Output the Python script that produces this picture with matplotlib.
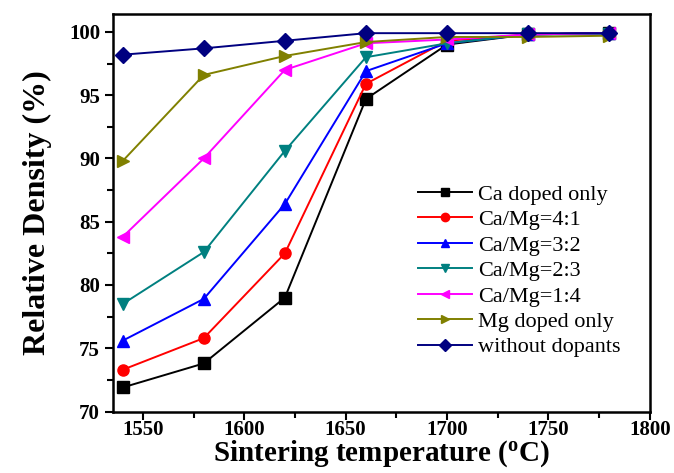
import matplotlib
matplotlib.use("Agg")
import matplotlib.pyplot as plt
from matplotlib.ticker import MultipleLocator

plt.rcParams['font.family'] = ['Liberation Serif', 'DejaVu Serif']
plt.rcParams['mathtext.fontset'] = 'custom'
plt.rcParams['mathtext.rm'] = 'Liberation Serif:bold'

# sintering temperatures (C)
temps = [1540, 1580, 1620, 1660, 1700, 1740, 1780]

ca_only = [71.9, 73.8, 79.0, 94.7, 99.0, 99.8, 99.9]
ca_mg_41 = [73.3, 75.8, 82.5, 95.9, 99.3, 99.8, 99.9]
ca_mg_32 = [75.6, 78.9, 86.4, 96.9, 99.1, 99.8, 99.9]
ca_mg_23 = [78.5, 82.6, 90.6, 98.0, 99.1, 99.8, 99.8]
ca_mg_14 = [83.8, 90.0, 97.0, 99.1, 99.4, 99.8, 99.9]
mg_only = [89.8, 96.6, 98.1, 99.2, 99.6, 99.6, 99.7]
no_dopant = [98.2, 98.7, 99.3, 99.9, 99.9, 99.9, 99.9]

labels = ['Ca doped only', 'Ca/Mg=4:1', 'Ca/Mg=3:2', 'Ca/Mg=2:3',
          'Ca/Mg=1:4', 'Mg doped only', 'without dopants']
series = [ca_only, ca_mg_41, ca_mg_32, ca_mg_23, ca_mg_14, mg_only, no_dopant]
colors = ['black', 'red', 'blue', '#008080', 'magenta', '#808000', '#000080']
markers = ['s', 'o', '^', 'v', '<', '>', 'D']

fig = plt.figure(figsize=(6.74, 4.73), dpi=100)
ax = fig.add_axes([0.167, 0.13, 0.797, 0.84])

for y, lab, c, m in zip(series, labels, colors, markers):
    ax.plot(temps, y, color=c, marker=m, markersize=8, lw=1.4, label=lab)

ax.set_xlim(1535, 1800)
ax.set_ylim(70, 101.4)
ax.xaxis.set_major_locator(MultipleLocator(50))
ax.xaxis.set_minor_locator(MultipleLocator(25))
ax.yaxis.set_major_locator(MultipleLocator(5))
ax.yaxis.set_minor_locator(MultipleLocator(2.5))
ax.tick_params(which='both', direction='out', width=1.5, top=False, right=False)
ax.tick_params(which='major', length=6, labelsize=15, pad=3)
ax.tick_params(axis='x', which='major', pad=0)
ax.tick_params(which='minor', length=4)
for lbl in ax.get_xticklabels() + ax.get_yticklabels():
    lbl.set_fontweight('bold')
for sp in ax.spines.values():
    sp.set_linewidth(1.8)

ax.set_xlabel('Sintering temperature ($\\mathregular{^oC}$)', fontsize=21,
              fontweight='bold', labelpad=-1)
ax.set_ylabel('Relative Density (%)', fontsize=23, fontweight='bold', labelpad=12)

ax.legend(loc='upper left', bbox_to_anchor=(0.569, 0.572), frameon=False,
          fontsize=16, handlelength=2.4, handletextpad=0.3, labelspacing=0.22,
          borderpad=0, borderaxespad=0, markerscale=0.75)

fig.savefig('out.png', dpi=100)
